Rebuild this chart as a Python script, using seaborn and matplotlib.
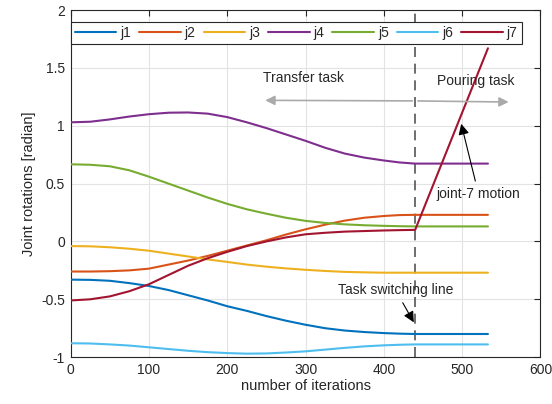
import numpy as np
import pandas as pd
import matplotlib
matplotlib.use('Agg')
import matplotlib.pyplot as plt
import seaborn as sns

iters = [0, 25, 50, 75, 100, 125, 150, 175, 200, 225, 250, 275, 300,
         325, 350, 375, 400, 420, 440, 533]

j1 = [-0.33, -0.332, -0.34, -0.36, -0.385, -0.42, -0.465, -0.51, -0.56, -0.60,
      -0.645, -0.685, -0.72, -0.75, -0.77, -0.783, -0.792, -0.797, -0.80, -0.80]
j2 = [-0.26, -0.26, -0.257, -0.25, -0.235, -0.20, -0.165, -0.125, -0.08, -0.035,
      0.01, 0.06, 0.105, 0.145, 0.18, 0.205, 0.22, 0.228, 0.23, 0.23]
j3 = [-0.04, -0.042, -0.05, -0.063, -0.08, -0.105, -0.13, -0.155, -0.177, -0.2,
      -0.218, -0.233, -0.245, -0.255, -0.263, -0.267, -0.27, -0.27, -0.27, -0.27]
j4 = [1.03, 1.035, 1.055, 1.08, 1.10, 1.113, 1.115, 1.105, 1.075, 1.03,
      0.98, 0.925, 0.87, 0.81, 0.76, 0.725, 0.70, 0.683, 0.673, 0.673]
j5 = [0.667, 0.663, 0.65, 0.615, 0.56, 0.50, 0.44, 0.38, 0.325, 0.278,
      0.24, 0.205, 0.178, 0.16, 0.148, 0.14, 0.135, 0.132, 0.13, 0.13]
j6 = [-0.88, -0.882, -0.89, -0.90, -0.915, -0.93, -0.945, -0.957, -0.965, -0.97,
      -0.968, -0.96, -0.95, -0.935, -0.92, -0.907, -0.898, -0.893, -0.89, -0.89]
j7 = [-0.51, -0.50, -0.475, -0.43, -0.37, -0.29, -0.21, -0.145, -0.09, -0.04,
      0.0, 0.035, 0.062, 0.075, 0.085, 0.09, 0.095, 0.098, 0.10, 1.67]

joints = ['j1', 'j2', 'j3', 'j4', 'j5', 'j6', 'j7']
colors = ['#0072BD', '#D95319', '#EDB120', '#7E2F8E', '#77AC30', '#4DBEEE', '#A2142F']
switch_iter = 440

rows = []
for name, vals in zip(joints, [j1, j2, j3, j4, j5, j6, j7]):
    for it, v in zip(iters, vals):
        rows.append((it, v, name))
df = pd.DataFrame(rows, columns=['iteration', 'rotation', 'joint'])

sns.set_style('whitegrid')
plt.rcParams['font.family'] = ['Liberation Sans', 'DejaVu Sans']

fig = plt.figure(figsize=(5.52, 4.04), dpi=100)
ax = fig.add_axes([0.128, 0.116, 0.851, 0.859])

sns.lineplot(data=df, x='iteration', y='rotation', hue='joint',
             palette=dict(zip(joints, colors)), linewidth=1.5, ax=ax,
             legend=False, zorder=3)

ax.axvline(switch_iter, color='#555555', linestyle=(0, (6, 4)), linewidth=1.2, zorder=2)

ax.set_xlim(0, 600)
ax.set_ylim(-1, 2)
ax.set_xticks(np.arange(0, 601, 100))
ax.set_yticks([-1, -0.5, 0, 0.5, 1, 1.5, 2])
ax.set_yticklabels(['-1', '-0.5', '0', '0.5', '1', '1.5', '2'])
ax.set_xlabel('number of iterations', fontsize=10.5, color='#262626', labelpad=2)
ax.set_ylabel('Joint rotations [radian]', fontsize=10.5, color='#262626', labelpad=4)
ax.grid(True, color='#e3e3e3', linewidth=0.8)
ax.tick_params(direction='in', length=4, top=True, right=True, labelsize=10,
               colors='#262626', pad=4)
for s in ax.spines.values():
    s.set_color('#262626')
    s.set_linewidth(0.8)

handles = [plt.Line2D([], [], color=c, linewidth=1.5) for c in colors]
leg = ax.legend(handles, joints, loc='upper left', bbox_to_anchor=(0.0, 0.966),
                ncol=7, frameon=True, fontsize=10, handlelength=3.0,
                handletextpad=0.3, columnspacing=0.55, borderaxespad=0,
                borderpad=0.3, fancybox=False)
leg.get_frame().set_edgecolor('#262626')
leg.get_frame().set_linewidth(0.8)
leg.get_frame().set_alpha(1)

ax.text(298, 1.41, 'Transfer task', ha='center', va='center', fontsize=10)
ax.text(517, 1.39, 'Pouring task', ha='center', va='center', fontsize=10)
gray_arrow = dict(arrowstyle='-|>', color='#aaaaaa', lw=1.2, mutation_scale=14)
ax.annotate('', xy=(245, 1.22), xytext=(switch_iter, 1.215), arrowprops=gray_arrow)
ax.annotate('', xy=(563, 1.205), xytext=(switch_iter, 1.215), arrowprops=gray_arrow)

black_arrow = dict(arrowstyle='-|>', color='black', lw=0.8, mutation_scale=16)
ax.annotate('joint-7 motion', xy=(498, 1.04), xytext=(521, 0.41),
            ha='center', va='center', fontsize=10, arrowprops=black_arrow)
ax.annotate('Task switching line', xy=(440, -0.72), xytext=(415, -0.42),
            ha='center', va='center', fontsize=10, arrowprops=black_arrow)

fig.savefig('out.png', dpi=100)
